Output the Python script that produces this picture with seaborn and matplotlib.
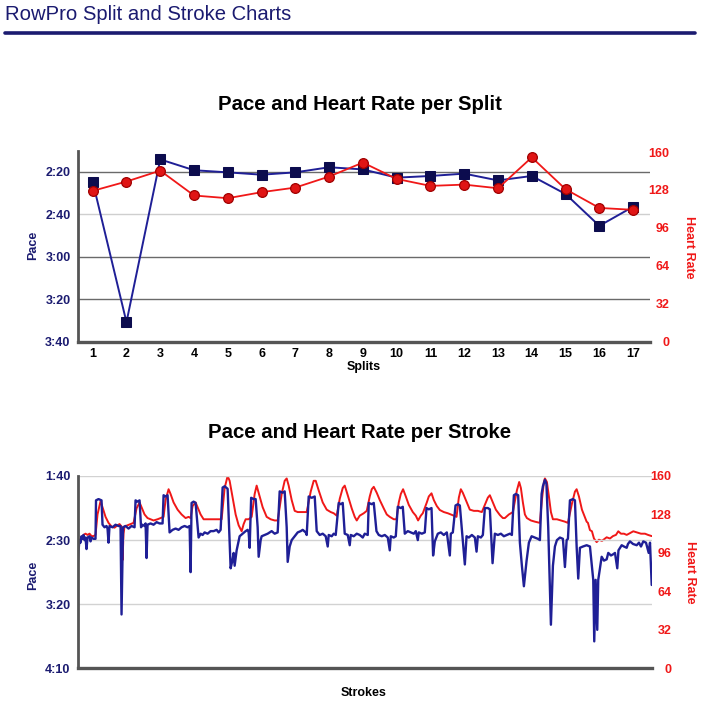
import matplotlib
matplotlib.use("Agg")
import matplotlib.pyplot as plt
from matplotlib.lines import Line2D
from matplotlib.ticker import FuncFormatter
import seaborn as sns
import pandas as pd

# ---------------- data: splits ----------------
splits = list(range(1, 18))
split_pace_sec = [144.7, 210.9, 134.2, 139.3, 140.3, 141.4, 140.3, 137.9, 138.9,
                  142.8, 142.0, 140.9, 144.1, 142.0, 150.5, 165.5, 156.5]
split_hr = [127.2, 135.1, 144.3, 123.3, 121.0, 126.1, 130.0, 139.3, 151.1,
            137.3, 131.4, 132.5, 129.4, 155.5, 128.6, 112.8, 111.2]
split_pace_ticks = [140, 160, 180, 200, 220]
hr_ticks = [0, 32, 64, 96, 128, 160]

# ---------------- data: strokes ----------------
stroke_pace_x = [0, 1, 2, 3, 4, 5, 6, 7, 8, 9, 10, 12, 13, 14, 16, 18,
                 18.5, 21, 24,
                 25, 27, 29, 30, 31, 32, 35, 38, 41, 43, 44, 45.5, 48, 51, 54, 57,
                 58, 60, 62,
                 63.5, 65, 67, 68, 69, 70, 73, 76, 79, 82, 85,
                 86, 88, 90,
                 92, 95, 98, 101, 104, 107, 110, 112, 113,
                 114, 116, 118,
                 121, 123, 125, 127, 130, 133, 136, 139, 141, 143,
                 145, 147, 150,
                 151, 153, 155, 156, 157, 159, 162, 165, 168, 170, 171, 172,
                 173.5, 176, 178,
                 180, 181, 183, 184, 187, 190, 194, 197, 200,
                 202, 205, 207,
                 209, 210, 212, 214, 217, 220, 223, 225, 228, 229,
                 231, 234, 237,
                 239, 242, 245, 248, 250, 251, 254, 256, 258,
                 261, 263, 265,
                 267, 270, 272, 273, 276, 279, 282, 285, 287, 290,
                 291, 294, 296,
                 298.7, 301, 304, 307, 310, 312, 313, 316, 318,
                 320, 323, 325,
                 327, 330, 333, 336, 338, 340, 341, 344, 347,
                 348.7, 351, 353.7,
                 355.3, 357, 360, 363, 366, 369, 372, 373, 375,
                 377.7, 380, 382,
                 387, 388.7, 391, 394, 397, 398.7, 400, 403, 405,
                 407, 410, 412,
                 414.7, 417, 420, 423, 426, 429, 432, 434,
                 436, 438, 440.3,
                 442, 444, 446, 448.7, 451, 453.7, 457, 460, 462,
                 463.7, 465, 467, 468.5, 470.3, 473, 475, 477, 479, 482, 485, 487, 488.7, 490,
                 492, 495, 497,
                 498.7, 500.3, 502, 505, 508.7, 512,
                 515.3, 516.3, 517.7, 519.3, 520.3, 523.7, 526, 528.7, 530.3, 533, 535.3, 537,
                 539.3, 540.5, 543.7, 546, 548.7, 550, 552, 555, 558.7, 561, 563, 565.3, 568,
                 570.7, 572, 573.7]
stroke_pace_sec = [172, 158, 150, 152, 147, 149, 146, 150, 148, 157, 148, 147, 151, 148, 149, 149,
                   119, 118, 119,
                   138, 140, 139, 141, 152, 139, 140, 138, 139, 139, 208, 140, 139, 141, 139, 140,
                   119, 120, 119,
                   140, 138, 139, 137, 164, 138, 137, 138, 136, 137, 137,
                   115, 116, 115,
                   144, 142, 141, 142, 140, 139, 140, 139, 175,
                   121, 120, 121,
                   148, 145, 146, 144, 145, 143, 143, 142, 144, 142,
                   109, 108, 110,
                   130, 172, 165, 160, 170, 158, 147, 145, 143, 142, 144, 156,
                   117, 118, 118,
                   140, 163, 150, 147, 146, 145, 143, 145, 144,
                   112, 113, 112,
                   140, 167, 155, 150, 147, 144, 143, 142, 144, 146,
                   116, 117, 116,
                   143, 146, 145, 147, 155, 146, 147, 145, 146,
                   121, 122, 121,
                   145, 146, 154, 146, 147, 145, 146, 148, 145, 146,
                   121, 122, 121,
                   143, 146, 147, 146, 148, 158, 147, 148, 147,
                   124, 125, 124,
                   145, 143, 144, 145, 143, 150, 144, 145, 144,
                   125, 126, 125,
                   162, 151, 145, 144, 146, 144, 162, 145, 144,
                   123, 122, 123,
                   169, 147, 148, 146, 148, 159, 147, 148, 146,
                   125, 125, 126,
                   168, 145, 146, 145, 147, 146, 145, 146,
                   115, 114, 115,
                   152, 170, 186, 166, 152, 147, 148, 149, 150,
                   114, 108, 103, 106, 140, 216, 170, 155, 150, 148, 149, 171, 150, 149,
                   119, 118, 119,
                   155, 180, 156, 155, 154, 155,
                   181, 229, 181, 220, 181, 163, 166, 165, 160, 162, 161, 160,
                   172, 158, 154, 155, 156, 153, 151, 153, 154, 152, 155, 151, 152,
                   160, 152, 185]

stroke_hr_x = [0, 0.5, 2, 4, 6, 8, 10, 12, 14, 16, 18,
               20, 23, 25, 28, 31, 34, 37, 40, 42, 44, 45, 46, 47, 50, 53, 56,
               59, 62, 64, 67, 70, 73, 76, 80, 83, 86,
               88, 91, 93, 96, 100, 104, 108, 111, 113,
               115, 118, 120, 123, 126, 130, 135, 140, 144,
               147, 150, 152, 155, 158, 161, 164, 166, 168, 171, 174,
               177, 179, 182, 185, 189, 193, 197, 200,
               204, 207, 209, 211, 214, 217, 220, 224, 229,
               233, 236, 238, 241, 245, 249, 253, 256, 259,
               262, 265, 267, 270, 274, 277, 279, 282, 286, 289,
               292, 294, 296, 299, 302, 306, 309, 312, 316, 318.7,
               321, 323, 325.3, 328, 331, 335, 338, 340.3, 343, 345,
               349, 351, 353.7, 356, 359, 362, 366, 370, 373, 376, 378.7,
               381, 383, 385, 388, 392, 396, 400, 404,
               408, 410, 412, 415, 418, 422, 425, 427, 431, 435,
               439, 441.3, 443, 445, 447, 449, 453, 457, 462,
               464, 466, 467, 469, 471, 473, 475, 479, 483, 487, 490,
               494, 497, 498.7, 501, 504, 508.7, 510, 512, 514, 516, 518.7, 521, 524,
               528.7, 532, 535, 538, 540.3, 543, 546, 548.7, 551, 555.3, 559, 563,
               567, 570, 573.7]
stroke_hr = [0, 108, 106, 109, 111, 112, 111, 112, 110, 110, 111,
             128, 139, 134, 126, 121, 118, 117, 119, 120, 118, 90, 112, 118, 119, 120, 121,
             133, 138, 134, 128, 125, 124, 123, 124, 125, 126,
             140, 149, 145, 138, 132, 128, 125, 126, 125,
             135, 138, 134, 128, 124, 124, 124, 124, 124,
             150, 160, 156, 142, 128, 119, 114, 120, 124, 124, 126,
             145, 152, 143, 134, 126, 124, 123, 123,
             145, 156, 158, 152, 140, 131, 130, 130, 130,
             147, 156, 156, 148, 138, 132, 130, 129, 127,
             141, 150, 152, 144, 133, 126, 123, 127, 129, 131,
             143, 149, 151, 146, 140, 133, 128, 126, 124, 124,
             138, 145, 149, 143, 136, 130, 127, 123, 127, 129,
             138, 143, 145.6, 140, 135, 131.7, 130, 129, 128, 127, 126,
             142, 149, 146, 140, 132, 131, 131, 130,
             138, 142, 144, 138, 132, 127.5, 125, 125, 128, 130,
             148, 155, 150, 138, 128, 125, 123, 122, 121,
             140, 155, 158, 155, 143, 130, 124, 124, 123, 122, 121,
             137, 147, 149, 143, 132, 122, 121, 115, 114, 108, 105, 107, 106,
             109, 108, 110, 111, 114, 112, 112, 111, 112, 114, 113, 112,
             112, 111, 110]
stroke_pace_ticks = [100, 150, 200, 250]

# ---------------- style ----------------
sns.set_theme(style="white")
plt.rcParams["font.family"] = ["Liberation Sans", "DejaVu Sans"]

NAVY = "#1b1b70"
NAVY_LINE = "#1f1f96"
NAVY_MK = "#0c0c4e"
RED = "#f01818"
SPINE = "#555555"
TICK_FS = 9
LAB_FS = 9

def mmss(v, pos=None):
    v = int(round(v))
    return f"{v // 60}:{v % 60:02d}"

W, H = 709, 710
fig = plt.figure(figsize=(W / 100, H / 100), dpi=100)

def fx(px):
    return px / W

def fy(py):
    return 1 - py / H

# header
fig.text(fx(5), fy(15), "RowPro Split and Stroke Charts", color=NAVY, fontsize=14.6,
         va="center", ha="left")
fig.add_artist(Line2D([fx(5), fx(695)], [fy(33), fy(33)], color=NAVY, lw=2.6))

# ---------------- split chart ----------------
df_split = pd.DataFrame({"split": splits, "pace": split_pace_sec, "hr": split_hr})

ax1 = fig.add_axes([fx(77.5), fy(341.5), fx(650) - fx(77.5), fy(150.5) - fy(341.5)])
ax2 = ax1.twinx()

for t in split_pace_ticks[:-1]:
    ax1.axhline(t, color="#6a6a6a" if t != 160 else "#cfcfcf", lw=1.0, zorder=0)

sns.lineplot(data=df_split, x="split", y="pace", ax=ax1, color=NAVY_LINE, lw=1.4,
             marker="s", markersize=6.5, markerfacecolor=NAVY_MK,
             markeredgecolor=NAVY_MK, sort=False, estimator=None)
sns.lineplot(data=df_split, x="split", y="hr", ax=ax2, color=RED, lw=1.3,
             marker="o", markersize=7, markerfacecolor="#e01515",
             markeredgecolor="#a00000", markeredgewidth=0.9, sort=False, estimator=None)

ax1.set_xlim(0.55, 17.5)
ax1.set_ylim(220, 130)
ax2.set_ylim(0, 161.3)
ax1.set_xticks(splits)
ax1.set_xticklabels([str(s) for s in splits])
ax1.set_yticks(split_pace_ticks)
ax1.yaxis.set_major_formatter(FuncFormatter(mmss))
ax2.set_yticks(hr_ticks)

# ---------------- stroke chart ----------------
df_pace = pd.DataFrame({"stroke": stroke_pace_x, "pace": stroke_pace_sec})
df_hr = pd.DataFrame({"stroke": stroke_hr_x, "hr": stroke_hr})

bx1 = fig.add_axes([fx(77.5), fy(668.3), fx(652) - fx(77.5), fy(476) - fy(668.3)])
bx2 = bx1.twinx()

for t in stroke_pace_ticks[:-1]:
    bx1.axhline(t, color="#d2d2d2", lw=1.0, zorder=0)

sns.lineplot(data=df_hr, x="stroke", y="hr", ax=bx2, color=RED, lw=1.4,
             sort=False, estimator=None)
sns.lineplot(data=df_pace, x="stroke", y="pace", ax=bx1, color=NAVY_LINE, lw=1.7,
             sort=False, estimator=None)
bx1.set_zorder(bx2.get_zorder() + 1)
bx1.patch.set_visible(False)

bx1.set_xlim(0, 574)
bx1.set_ylim(250, 100)
bx2.set_ylim(0, 160)
bx1.set_xticks([])
bx1.set_yticks(stroke_pace_ticks)
bx1.yaxis.set_major_formatter(FuncFormatter(mmss))
bx2.set_yticks(hr_ticks)

# ---------------- common axis styling ----------------
for a in (ax1, bx1):
    a.set_xlabel("")
    a.set_ylabel("")
    for s in ("top", "right"):
        a.spines[s].set_visible(False)
    a.spines["left"].set_color(SPINE)
    a.spines["left"].set_linewidth(2.0)
    a.spines["bottom"].set_color(SPINE)
    a.spines["bottom"].set_linewidth(2.4)
    a.tick_params(axis="y", length=0, pad=5, labelsize=TICK_FS, labelcolor=NAVY)
    a.tick_params(axis="x", length=0, pad=5, labelsize=TICK_FS, labelcolor="black")
    for lab in a.get_yticklabels() + a.get_xticklabels():
        lab.set_fontweight("bold")
for a in (ax2, bx2):
    a.set_ylabel("")
    for s in a.spines.values():
        s.set_visible(False)
    a.tick_params(axis="y", length=0, pad=14, labelsize=TICK_FS, labelcolor=RED)
    for lab in a.get_yticklabels():
        lab.set_fontweight("bold")
        lab.set_horizontalalignment("right")
    a.grid(False)

# titles and labels
fig.text(fx(360), fy(104), "Pace and Heart Rate per Split", ha="center", va="center",
         fontsize=14.7, fontweight="bold", color="black")
fig.text(fx(360), fy(432), "Pace and Heart Rate per Stroke", ha="center", va="center",
         fontsize=14.7, fontweight="bold", color="black")
fig.text(fx(364), fy(367), "Splits", ha="center", va="center", fontsize=LAB_FS,
         fontweight="bold", color="black")
fig.text(fx(364), fy(693), "Strokes", ha="center", va="center", fontsize=LAB_FS,
         fontweight="bold", color="black")
fig.text(fx(33), fy(245), "Pace", ha="center", va="center", rotation=90, fontsize=LAB_FS,
         fontweight="bold", color=NAVY)
fig.text(fx(33), fy(575), "Pace", ha="center", va="center", rotation=90, fontsize=LAB_FS,
         fontweight="bold", color=NAVY)
fig.text(fx(689), fy(247), "Heart Rate", ha="center", va="center", rotation=270,
         fontsize=LAB_FS, fontweight="bold", color=RED)
fig.text(fx(690), fy(572), "Heart Rate", ha="center", va="center", rotation=270,
         fontsize=LAB_FS, fontweight="bold", color=RED)

fig.savefig("out.png", dpi=100, facecolor="white")
